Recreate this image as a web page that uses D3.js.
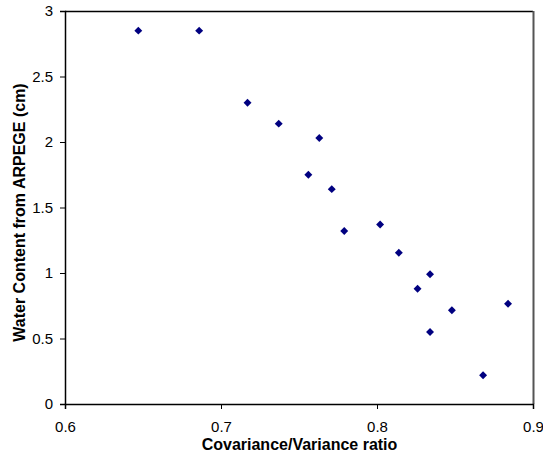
<!DOCTYPE html>
<html>
<head>
<meta charset="utf-8">
<script src="https://cdn.jsdelivr.net/npm/d3@7"></script>
<style>
  html, body { margin: 0; padding: 0; background: #fff; }
  svg { display: block; font-family: "Liberation Sans", Arial, sans-serif; }
</style>
</head>
<body>
<svg id="chart" width="543" height="458"></svg>
<script>
// Covariance/variance ratio against ARPEGE water content
const ratio = [0.647, 0.686, 0.717, 0.737, 0.763, 0.756, 0.771, 0.779,
               0.802, 0.814, 0.834, 0.826, 0.884, 0.848, 0.834, 0.868];
const water = [2.85, 2.85, 2.30, 2.14, 2.03, 1.75, 1.64, 1.32,
               1.37, 1.155, 0.99, 0.88, 0.765, 0.715, 0.55, 0.22];
const xTicks = [0.6, 0.7, 0.8, 0.9];
const yTicks = [0, 0.5, 1, 1.5, 2, 2.5, 3];

(function () {
  const svg = d3.select("#chart");
  const pLeft = 65, pRight = 533, pTop = 11, pBottom = 404;

  const x = d3.scaleLinear().domain([0.6, 0.9]).range([pLeft, pRight]);
  const y = d3.scaleLinear().domain([0, 3]).range([pBottom, pTop]);

  // plot frame (top and right edges)
  svg.append("line").attr("x1", pLeft).attr("x2", pRight).attr("y1", pTop + 0.5).attr("y2", pTop + 0.5)
    .attr("stroke", "#000").attr("stroke-width", 1.5);
  svg.append("line").attr("x1", pRight + 0.5).attr("x2", pRight + 0.5).attr("y1", pTop).attr("y2", pBottom)
    .attr("stroke", "#555").attr("stroke-width", 2);

  const xAxis = svg.append("g").attr("transform", `translate(0,${pBottom})`)
    .call(d3.axisBottom(x).tickValues(xTicks).tickFormat(d3.format(".1f")).tickSize(5).tickPadding(12));
  const yAxis = svg.append("g").attr("transform", `translate(${pLeft},0)`)
    .call(d3.axisLeft(y).tickValues(yTicks).tickFormat(d => String(d)).tickSize(5).tickPadding(7));

  [xAxis, yAxis].forEach(g => {
    g.select(".domain").attr("stroke", "#000").attr("stroke-width", 1.5);
    g.selectAll(".tick line").attr("stroke", "#000").attr("stroke-width", 1);
    g.selectAll("text").attr("font-size", 15).attr("fill", "#000")
      .attr("font-family", "'Liberation Sans', Arial, sans-serif");
  });

  // data markers
  const diamond = d3.symbol().type(d3.symbolDiamond2).size(40);
  svg.append("g").selectAll("path")
    .data(ratio.map((r, i) => [r, water[i]]))
    .join("path")
    .attr("d", diamond)
    .attr("transform", d => `translate(${x(d[0])},${y(d[1])})`)
    .attr("fill", "#000080");

  // axis titles
  svg.append("text").attr("x", 299.5).attr("y", 450)
    .attr("text-anchor", "middle").attr("font-size", 16).attr("font-weight", "bold")
    .text("Covariance/Variance ratio");
  svg.append("text").attr("transform", "translate(25,212.5) rotate(-90)")
    .attr("text-anchor", "middle").attr("font-size", 16).attr("font-weight", "bold")
    .text("Water Content from ARPEGE (cm)");
})();
</script>
</body>
</html>
